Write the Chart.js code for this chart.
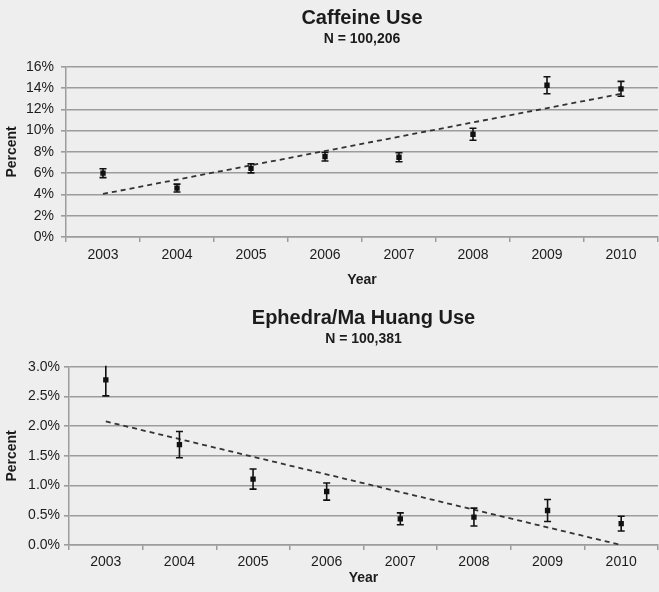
<!DOCTYPE html>
<html>
<head>
<meta charset="utf-8">
<script src="https://cdn.jsdelivr.net/npm/chart.js@4.4.0/dist/chart.umd.min.js"></script>
<style>
  html, body { margin: 0; padding: 0; background: #eeeeee; }
  #wrap { position: relative; width: 659px; height: 592px; overflow: hidden; }
  .box { position: absolute; left: 0; width: 662px; height: 296px; }
</style>
</head>
<body>
<div id="wrap">
  <div class="box" style="top:0"><canvas id="caffeineChart"></canvas></div>
  <div class="box" style="top:296px"><canvas id="ephedraChart"></canvas></div>
</div>
<script>
const years = ["2003", "2004", "2005", "2006", "2007", "2008", "2009", "2010"];

// Caffeine (percent) + half-width of error bar
const caffeineValues = [6.0, 4.6, 6.45, 7.55, 7.5, 9.66, 14.27, 13.93];
const caffeineErr = [0.42, 0.37, 0.42, 0.4, 0.42, 0.56, 0.8, 0.7];
const caffeineTrend = [4.05, null, null, null, null, null, null, 13.46];
const caffeineTicks = ["0%", "2%", "4%", "6%", "8%", "10%", "12%", "14%", "16%"];

// Ephedra/Ma Huang
const ephedraValues = [2.78, 1.69, 1.11, 0.9, 0.44, 0.47, 0.58, 0.36];
const ephedraErr = [0.27, 0.22, 0.17, 0.145, 0.1, 0.15, 0.185, 0.125];
const ephedraTrend = [2.08, null, null, null, null, null, null, 0.0];
const ephedraTicks = ["0.0%", "0.5%", "1.0%", "1.5%", "2.0%", "2.5%", "3.0%"];

const FONT = "'Liberation Sans', Arial, sans-serif";
const TEXT = "#1c1c1c";
const GRID = "#9c9c9c";

// draws the vertical error bars with caps
const errorBars = {
  id: "errorBars",
  afterDatasetsDraw(chart, args, opts) {
    const { ctx, chartArea, scales } = chart;
    const meta = chart.getDatasetMeta(0);
    const vals = chart.data.datasets[0].data;
    ctx.save();
    ctx.beginPath();
    ctx.rect(chartArea.left, chartArea.top - 1, chartArea.width, chartArea.height + 2);
    ctx.clip();
    ctx.strokeStyle = "#111";
    ctx.lineWidth = 1.6;
    meta.data.forEach((pt, i) => {
      const hi = scales.y.getPixelForValue(vals[i] + opts.err[i]);
      const lo = scales.y.getPixelForValue(vals[i] - opts.err[i]);
      ctx.beginPath();
      ctx.moveTo(pt.x, hi);
      ctx.lineTo(pt.x, lo);
      ctx.moveTo(pt.x - 3.5, hi);
      ctx.lineTo(pt.x + 3.5, hi);
      ctx.moveTo(pt.x - 3.5, lo);
      ctx.lineTo(pt.x + 3.5, lo);
      ctx.stroke();
    });
    ctx.restore();
  },
};

function makeChart(id, cfg) {
  return new Chart(document.getElementById(id), {
    type: "line",
    data: {
      labels: years,
      datasets: [
        {
          data: cfg.values,
          showLine: false,
          pointStyle: "rect",
          pointRadius: 3.8,
          pointBackgroundColor: "#111",
          pointBorderWidth: 0,
        },
        {
          data: cfg.trend,
          spanGaps: true,
          borderColor: "#333",
          borderWidth: 1.8,
          borderDash: [5, 4],
          pointRadius: 0,
        },
      ],
    },
    plugins: [errorBars],
    options: {
      responsive: true,
      maintainAspectRatio: false,
      animation: false,
      layout: { padding: { left: 0, right: 0, top: 0, bottom: 0 } },
      plugins: {
        legend: { display: false },
        tooltip: { enabled: false },
        errorBars: { err: cfg.err },
        title: {
          display: true,
          text: cfg.title,
          fullSize: false,
          color: TEXT,
          font: { family: FONT, size: 20, weight: "bold" },
          padding: { top: cfg.titleTop, bottom: 0 },
        },
        subtitle: {
          display: true,
          text: cfg.subtitle,
          fullSize: false,
          color: TEXT,
          font: { family: FONT, size: 14, weight: "bold" },
          padding: { top: 1, bottom: 19 },
        },
      },
      scales: {
        x: {
          offset: true,
          grid: {
            offset: true,
            drawOnChartArea: false,
            drawTicks: true,
            tickLength: 5,
            color: GRID,
            lineWidth: 1.5,
          },
          border: { color: GRID, width: 1.5 },
          ticks: {
            color: TEXT,
            padding: cfg.xTickPad,
            maxRotation: 0,
            font: { family: FONT, size: 14 },
          },
          title: {
            display: true,
            text: "Year",
            color: TEXT,
            font: { family: FONT, size: 14, weight: "bold" },
            padding: { top: 0, bottom: cfg.yearPad },
          },
          afterFit: (s) => { s.height = cfg.xHeight; },
        },
        y: {
          min: 0,
          max: cfg.max,
          grid: {
            color: GRID,
            lineWidth: 1.6,
            drawTicks: true,
            tickLength: 5,
          },
          border: { color: GRID, width: 1.5 },
          ticks: {
            stepSize: cfg.step,
            color: TEXT,
            padding: cfg.tickPad,
            font: { family: FONT, size: 14 },
            callback: (v, i) => cfg.ticks[i],
          },
          title: {
            display: true,
            text: "Percent",
            color: TEXT,
            font: { family: FONT, size: 14, weight: "bold" },
          },
          afterFit: (s) => { s.width = cfg.yWidth; },
        },
      },
    },
  });
}

makeChart("caffeineChart", {
  title: "Caffeine Use",
  subtitle: "N = 100,206",
  values: caffeineValues,
  err: caffeineErr,
  trend: caffeineTrend,
  ticks: caffeineTicks,
  max: 16,
  step: 2,
  titleTop: 6,
  yWidth: 66,
  tickPad: 7,
  xHeight: 59,
  xTickPad: 5,
  yearPad: 7,
});

makeChart("ephedraChart", {
  title: "Ephedra/Ma Huang Use",
  subtitle: "N = 100,381",
  values: ephedraValues,
  err: ephedraErr,
  trend: ephedraTrend,
  ticks: ephedraTicks,
  max: 3,
  step: 0.5,
  titleTop: 10,
  yWidth: 69,
  tickPad: 4,
  xHeight: 47,
  xTickPad: 4,
  yearPad: 5,
});
</script>
</body>
</html>
